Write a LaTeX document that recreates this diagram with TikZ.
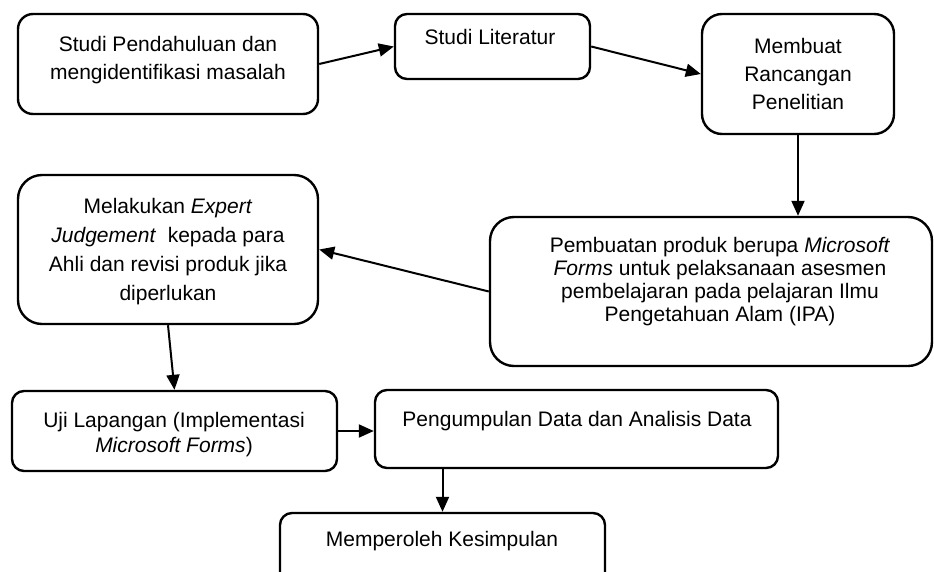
\documentclass[tikz,border=0pt]{standalone}
\usepackage{fontspec}
\setmainfont{Liberation Sans}
\usetikzlibrary{arrows.meta}
\tikzset{
  box/.style={draw, line width=2.4pt, rounded corners=#1, inner sep=0pt, fill=none},
  box/.default=14pt,
  txt/.style={align=center, inner sep=0pt, font=\fontsize{21}{28}\selectfont},
  conn/.style={line width=2pt, -{Triangle[length=15pt,width=13pt]}}
}
\begin{document}
\begin{tikzpicture}[x=1pt,y=-1pt]
\useasboundingbox (0,0) rectangle (934,571);
\clip (0,0) rectangle (934,571);
\fill[white] (0,0) rectangle (934,571);
% boxes
\node[box=15pt, minimum width=300pt, minimum height=100pt] (b1) at (168,64) {};
\node[box=12pt, minimum width=195pt, minimum height=65pt] (b2) at (492.5,46.5) {};
\node[box=20pt, minimum width=192pt, minimum height=120pt] (b3) at (798,74) {};
\node[box=24pt, minimum width=442pt, minimum height=149pt] (b4) at (711,291.5) {};
\node[box=24pt, minimum width=300pt, minimum height=149pt] (b5) at (168,249.5) {};
\node[box=12pt, minimum width=325pt, minimum height=80pt] (b6) at (174.5,431) {};
\node[box=12pt, minimum width=403pt, minimum height=78pt] (b7) at (576.5,429) {};
\node[box=12pt, minimum width=325pt, minimum height=77pt] (b8) at (442.5,551.5) {};
% texts
\node[txt] (t1) at (168,60) {Studi Pendahuluan dan\\mengidentifikasi masalah};
\node[txt] (t2) at (490,37) {Studi Literatur};
\node[txt] (t3) at (798,74) {Membuat\\Rancangan\\Penelitian};
\node[txt, font=\fontsize{21}{23}\selectfont] (t4) at (720,282) {Pembuatan produk berupa \textit{Microsoft}\\\textit{Forms} untuk pelaksanaan asesmen\\pembelajaran pada pelajaran Ilmu\\Pengetahuan Alam (IPA)};
\node[txt, font=\fontsize{21}{29}\selectfont] (t5) at (168,252) {Melakukan \textit{Expert}\\\textit{Judgement}\ \ kepada para\\Ahli dan revisi produk jika\\diperlukan};
\node[txt, font=\fontsize{21}{25}\selectfont] (t6) at (174,435) {Uji Lapangan (Implementasi\\\textit{Microsoft Forms})};
\node[txt] (t7) at (577,421) {Pengumpulan Data dan Analisis Data};
\node[txt] (t8) at (442,541) {Memperoleh Kesimpulan};
% connectors
\draw[conn] (b1.east) -- (b2.west);
\draw[conn] (b2.east) -- (b3.west);
\draw[conn] (b3.south) -- (b3.south |- b4.north);
\draw[conn] (b4.west) -- (b5.east);
\draw[conn] (b5.south) -- (b6.north);
\draw[conn] (b6.east) -- (b6.east -| b7.west);
\draw[conn] (b8.north |- b7.south) -- (b8.north);
\end{tikzpicture}
\end{document}
